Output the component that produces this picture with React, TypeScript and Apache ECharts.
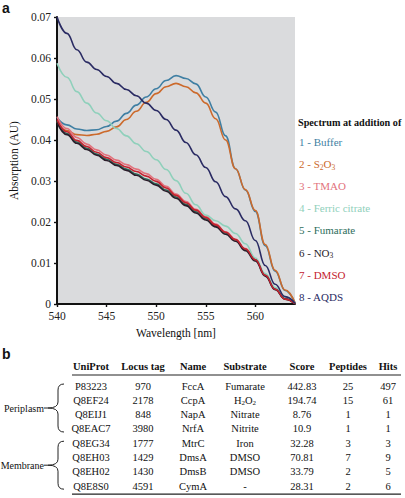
import { useEffect, useRef } from "react";
import * as echarts from "echarts";

// ---------- Panel a: spectra ----------
const wavelengths = [540, 541, 542, 543, 544, 545, 546, 547, 548, 549, 550, 551, 552, 553, 554, 555, 556, 557, 558, 559, 560, 561, 562, 563, 564];

const buffer = [0.0455, 0.0437, 0.0427, 0.0423, 0.0425, 0.0433, 0.0446, 0.0465, 0.0485, 0.0505, 0.0525, 0.0545, 0.0557, 0.055, 0.0537, 0.0505, 0.0468, 0.041, 0.033, 0.0278, 0.0226, 0.0142, 0.008, 0.0033, 0.0003];
const s2o3 = [0.0445, 0.0423, 0.0413, 0.0411, 0.0414, 0.0421, 0.0432, 0.045, 0.047, 0.0492, 0.0513, 0.053, 0.0538, 0.053, 0.0515, 0.049, 0.0452, 0.04, 0.033, 0.0279, 0.0228, 0.0145, 0.0082, 0.0034, 0.0003];
const tmao = [0.0457, 0.0428, 0.0406, 0.039, 0.0376, 0.0363, 0.0351, 0.034, 0.0329, 0.0318, 0.0304, 0.0287, 0.0268, 0.025, 0.0231, 0.0213, 0.0195, 0.0176, 0.0158, 0.0135, 0.0109, 0.0071, 0.0036, 0.0012, 0.0001];
const ferricCitrate = [0.0587, 0.0553, 0.0518, 0.049, 0.0466, 0.0447, 0.0428, 0.041, 0.0391, 0.0372, 0.0352, 0.0328, 0.0301, 0.027, 0.0242, 0.0217, 0.0203, 0.019, 0.0172, 0.0147, 0.0112, 0.0074, 0.004, 0.0015, 0.0002];
const fumarate = [0.0446, 0.0416, 0.0395, 0.038, 0.0366, 0.0353, 0.0341, 0.0329, 0.0317, 0.0305, 0.0293, 0.0278, 0.0261, 0.0243, 0.0225, 0.0208, 0.0191, 0.0173, 0.0156, 0.0133, 0.0108, 0.007, 0.0036, 0.0012, 0.0001];
const no3 = [0.0443, 0.0413, 0.0392, 0.0377, 0.0363, 0.035, 0.0338, 0.0326, 0.0314, 0.0302, 0.029, 0.0275, 0.0258, 0.024, 0.0222, 0.0205, 0.0188, 0.017, 0.0153, 0.013, 0.0105, 0.0068, 0.0035, 0.0012, 0.0001];
const dmso = [0.045, 0.042, 0.0399, 0.0384, 0.037, 0.0357, 0.0345, 0.0334, 0.0323, 0.0312, 0.0299, 0.0283, 0.0265, 0.0247, 0.0229, 0.0211, 0.0193, 0.0175, 0.0157, 0.0134, 0.0108, 0.007, 0.0036, 0.0012, 0.0001];
const aqds = [0.07, 0.066, 0.062, 0.059, 0.0572, 0.0555, 0.0538, 0.0523, 0.0508, 0.049, 0.0472, 0.045, 0.0424, 0.0394, 0.0364, 0.0333, 0.0298, 0.0262, 0.0232, 0.0203, 0.0155, 0.0094, 0.0048, 0.0018, 0.0002];

const seriesNames = ["1 - Buffer", "2 - S2O3", "3 - TMAO", "4 - Ferric citrate", "5 - Fumarate", "6 - NO3", "7 - DMSO", "8 - AQDS"];
const seriesValues = [buffer, s2o3, tmao, ferricCitrate, fumarate, no3, dmso, aqds];
const seriesColors = ["#3f7fa3", "#cc6a2c", "#e2727c", "#8fd0bb", "#2e6e5c", "#2a1d2a", "#c4222f", "#2a2b63"];

const xTicks = [540, 545, 550, 555, 560];
const legendTitle = "Spectrum at addition of";
const xAxisName = "Wavelength [nm]";
const yAxisName = "Absorption (AU)";

// ---------- Panel b: table ----------
const tableHeaders = ["UniProt", "Locus tag", "Name", "Substrate", "Score", "Peptides", "Hits"];
const uniprotIds = ["P83223", "Q8EF24", "Q8EIJ1", "Q8EAC7", "Q8EG34", "Q8EH03", "Q8EH02", "Q8E8S0"];
const locusTags = ["970", "2178", "848", "3980", "1777", "1429", "1430", "4591"];
const proteinNames = ["FccA", "CcpA", "NapA", "NrfA", "MtrC", "DmsA", "DmsB", "CymA"];
const substrates = ["Fumarate", "H2O2", "Nitrate", "Nitrite", "Iron", "DMSO", "DMSO", "-"];
const scores = ["442.83", "194.74", "8.76", "10.9", "32.28", "70.81", "33.79", "28.31"];
const peptides = ["25", "15", "1", "1", "3", "7", "2", "2"];
const hits = ["497", "61", "1", "1", "3", "9", "5", "6"];
const groupLabels = ["Periplasm", "Membrane"];

const SERIF = "Liberation Serif";
const SANS = "Liberation Sans";

function chem(s: string, tag: string): string {
  return s
    .replace("S2O3", `S{${tag}|2}O{${tag}|3}`)
    .replace("NO3", `NO{${tag}|3}`)
    .replace("H2O2", `H{${tag}|2}O{${tag}|2}`);
}

const BRACE_D = "M16 0 Q10 0 10 6 L10 18 Q10 24 0 24 Q10 24 10 30 L10 42 Q10 48 16 48";

export default function App() {
  const ref = useRef<HTMLDivElement>(null);

  useEffect(() => {
    if (!ref.current) return;
    try {
      echarts.graphic.registerShape("brace", echarts.graphic.extendPath(BRACE_D, {}) as any);
    } catch (e) {
      /* already registered */
    }
    const chart = echarts.init(ref.current, null, { renderer: "svg" });

    const legendRich: Record<string, any> = {};
    seriesNames.forEach((_, i) => {
      legendRich["s" + i] = {
        color: seriesColors[i],
        fontSize: 7.5,
        lineHeight: 9,
        verticalAlign: "bottom",
        fontFamily: SERIF,
      };
    });

    const series = seriesNames.map((name, i) => ({
      name,
      type: "line",
      data: wavelengths.map((w, j) => [w, seriesValues[i][j]]),
      showSymbol: false,
      smooth: 0.45,
      smoothMonotone: "x",
      lineStyle: { color: seriesColors[i], width: 1.6 },
      itemStyle: { color: seriesColors[i] },
      z: 2,
    }));

    // table graphics
    const colX = [91, 143, 193, 245, 302, 348, 388];
    const headerY = 366;
    const rowY0 = 386;
    const rowStep = 14.3;
    const cellStyle = (text: string, bold = false) => ({
      text: chem(text, "s"),
      fill: "#111",
      fontSize: 10.5,
      fontFamily: SERIF,
      fontWeight: bold ? "bold" : "normal",
      align: "center",
      verticalAlign: "middle",
      lineHeight: 12,
      rich: {
        s: { fill: "#111", fontSize: 7, lineHeight: 7, verticalAlign: "bottom", fontFamily: SERIF },
      },
    });

    const tableEls: any[] = [];
    tableHeaders.forEach((h, c) => {
      tableEls.push({ type: "text", x: colX[c], y: headerY, style: cellStyle(h, true) });
    });
    const columns = [uniprotIds, locusTags, proteinNames, substrates, scores, peptides, hits];
    columns.forEach((col, c) => {
      col.forEach((v, r) => {
        tableEls.push({ type: "text", x: colX[c], y: rowY0 + r * rowStep, style: cellStyle(v) });
      });
    });
    tableEls.push({
      type: "line",
      shape: { x1: 72, y1: 375, x2: 401, y2: 375 },
      style: { stroke: "#222", lineWidth: 1.2 },
    });
    tableEls.push({
      type: "line",
      shape: { x1: 72, y1: rowY0 + 7 * rowStep + 8, x2: 401, y2: rowY0 + 7 * rowStep + 8 },
      style: { stroke: "#222", lineWidth: 1.2 },
    });
    groupLabels.forEach((g, gi) => {
      const top = rowY0 + gi * 4 * rowStep - 2;
      const mid = top + 24;
      tableEls.push({
        type: "brace",
        x: 48,
        y: top,
        style: { stroke: "#222", fill: "none", lineWidth: 1 },
      });
      tableEls.push({
        type: "line",
        shape: { x1: 44, y1: mid, x2: 48, y2: mid },
        style: { stroke: "#222", lineWidth: 1 },
      });
      tableEls.push({
        type: "text",
        x: 44,
        y: mid,
        style: {
          text: g,
          fill: "#111",
          fontSize: 10,
          fontFamily: SERIF,
          align: "right",
          verticalAlign: "middle",
        },
      });
    });

    const option: any = {
      animation: false,
      backgroundColor: "#ffffff",
      textStyle: { fontFamily: SERIF },
      grid: {
        left: 44,
        top: 17,
        width: 251,
        height: 287,
        show: true,
        backgroundColor: "#dadbdd",
        borderWidth: 0,
      },
      xAxis: {
        type: "value",
        min: 540,
        max: 564,
        interval: 5,
        name: xAxisName,
        nameLocation: "middle",
        nameGap: 22,
        nameTextStyle: { color: "#111", fontSize: 11.5, fontFamily: SERIF },
        axisLine: { show: true, onZero: false, lineStyle: { color: "#111", width: 2 } },
        axisTick: { show: true, inside: false, length: 3, customValues: xTicks, lineStyle: { color: "#111", width: 1.4 } },
        axisLabel: { margin: 6, color: "#222", fontSize: 11.5, fontFamily: SERIF, customValues: xTicks },
        splitLine: { show: false },
      },
      yAxis: {
        type: "value",
        min: 0,
        max: 0.07,
        interval: 0.01,
        name: yAxisName,
        nameLocation: "middle",
        nameGap: 32,
        nameRotate: 90,
        nameTextStyle: { color: "#111", fontSize: 11.5, fontFamily: SERIF },
        axisLine: { show: true, lineStyle: { color: "#111", width: 2 } },
        axisTick: { show: true, inside: false, length: 3, lineStyle: { color: "#111", width: 1.4 } },
        axisLabel: { margin: 6, color: "#222", fontSize: 11.5, fontFamily: SERIF },
        splitLine: { show: false },
      },
      legend: {
        orient: "vertical",
        left: 294,
        top: 135,
        padding: 0,
        icon: "none",
        itemWidth: 0,
        itemHeight: 14,
        itemGap: 8.1,
        selectedMode: false,
        data: seriesNames.map((n, i) => ({ name: n, textStyle: { color: seriesColors[i] } })),
        formatter: (name: string) => chem(name, "s" + seriesNames.indexOf(name)),
        textStyle: { fontSize: 11, fontFamily: SERIF, lineHeight: 14, rich: legendRich },
      },
      series,
      graphic: [
        {
          type: "text",
          x: 2,
          y: 8,
          style: { text: "a", fill: "#111", fontSize: 14, fontWeight: "bold", fontFamily: SANS, verticalAlign: "middle" },
        },
        {
          type: "text",
          x: 298,
          y: 122,
          style: { text: legendTitle, fill: "#111", fontSize: 10.2, fontWeight: "bold", fontFamily: SERIF, verticalAlign: "middle" },
        },
        {
          type: "text",
          x: 2,
          y: 354,
          style: { text: "b", fill: "#111", fontSize: 14, fontWeight: "bold", fontFamily: SANS, verticalAlign: "middle" },
        },
        ...tableEls,
      ],
    };

    chart.setOption(option);
    return () => chart.dispose();
  }, []);

  return (
    <div
      ref={ref}
      style={{ position: "fixed", left: 0, top: 0, width: 405, height: 498, background: "#fff" }}
    />
  );
}
